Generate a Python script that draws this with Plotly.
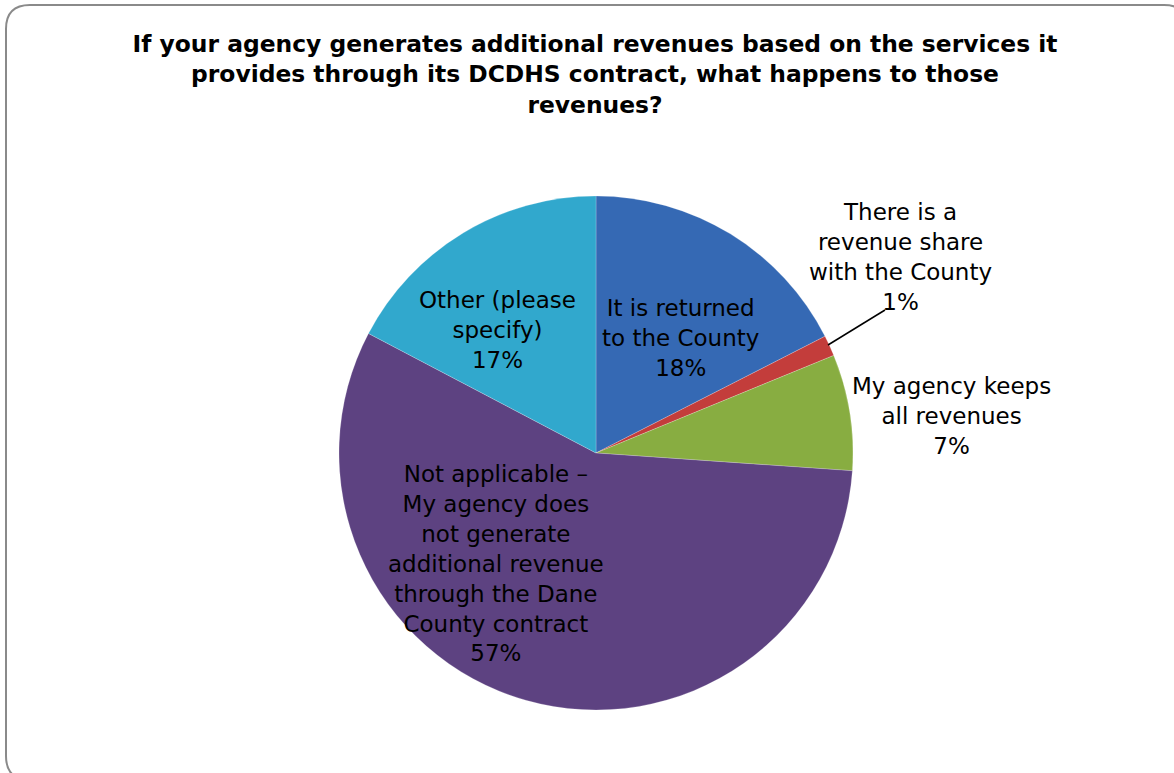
import plotly.graph_objects as go

W, H = 1174, 773

categories = [
    "It is returned<br>to the County",
    "There is a<br>revenue share<br>with the County",
    "My agency keeps<br>all revenues",
    "Not applicable –<br>My agency does<br>not generate<br>additional revenue<br>through the Dane<br>County contract",
    "Other (please<br>specify)",
]
values = [17.5, 1.3, 7.3, 56.6, 17.3]
pct_labels = ["18%", "1%", "7%", "57%", "17%"]
colors = ["#3569b4", "#c33d3b", "#88ad41", "#5d4281", "#31a8cd"]

# label centres in page pixels
label_pos = [(681, 338), (900, 257), (951, 416), (496, 563), (497, 330)]

FONT = "DejaVu Sans, Liberation Sans, Arial, sans-serif"


def px(x):
    return x / W


def py(y):
    return 1 - y / H


fig = go.Figure()
cx, cy, r = 596, 453, 257
fig.add_trace(go.Pie(
    labels=[c.replace("<br>", " ") for c in categories],
    values=values,
    sort=False,
    direction="clockwise",
    rotation=0,
    marker=dict(colors=colors, line=dict(color="rgba(255,255,255,0.35)", width=0.6)),
    textinfo="none",
    hoverinfo="label+percent",
    showlegend=False,
    domain=dict(x=[px(cx - r), px(cx + r)], y=[py(cy + r), py(cy - r)]),
))

for cat, pct, (lx, ly) in zip(categories, pct_labels, label_pos):
    fig.add_annotation(
        x=px(lx), y=py(ly), xref="paper", yref="paper",
        text=f"{cat}<br>{pct}", showarrow=False, align="center",
        xanchor="center", yanchor="middle",
        font=dict(family=FONT, size=23, color="#000000"),
    )

# leader line for the small slice
fig.add_shape(type="line", xref="paper", yref="paper",
              x0=px(828), y0=py(345), x1=px(885), y1=py(310),
              line=dict(color="#000000", width=1.5))

# rounded frame
x0, y0, x1, y1, rr = 6, 5, 1188, 780, 24
path = (f"M {px(x0)},{py(y0 + rr)} Q {px(x0)},{py(y0)} {px(x0 + rr)},{py(y0)} "
        f"L {px(x1 - rr)},{py(y0)} Q {px(x1)},{py(y0)} {px(x1)},{py(y0 + rr)} "
        f"L {px(x1)},{py(y1 - rr)} Q {px(x1)},{py(y1)} {px(x1 - rr)},{py(y1)} "
        f"L {px(x0 + rr)},{py(y1)} Q {px(x0)},{py(y1)} {px(x0)},{py(y1 - rr)} Z")
fig.add_shape(type="path", xref="paper", yref="paper", path=path,
              line=dict(color="#8a8a8a", width=2), layer="below")

fig.update_layout(
    width=W, height=H,
    margin=dict(l=0, r=0, t=0, b=0),
    paper_bgcolor="#ffffff", plot_bgcolor="#ffffff",
    title=dict(
        text="<b>If your agency generates additional revenues based on the services it<br>"
             "provides through its DCDHS contract, what happens to those<br>revenues?</b>",
        x=px(595), xanchor="center", y=py(52), yanchor="top",
        font=dict(family=FONT, size=23.4, color="#000000"),
    ),
)

fig.write_html("out.html", config={"displayModeBar": False},
               post_script="document.body.style.margin='0px';")
